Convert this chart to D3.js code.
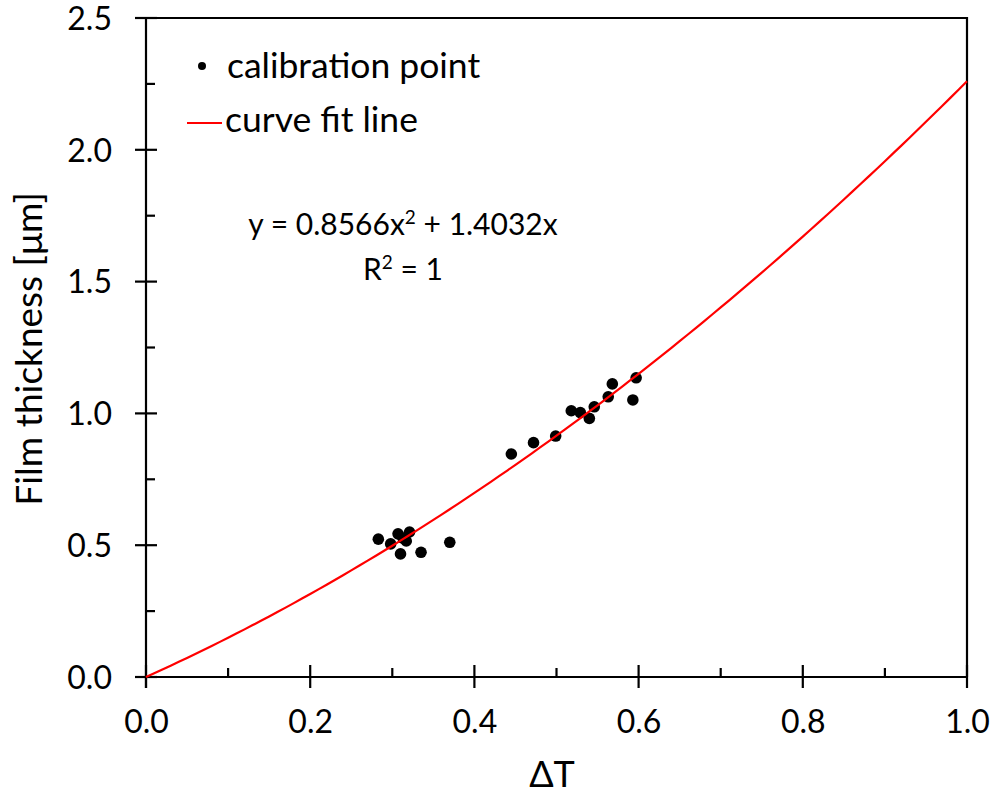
<!DOCTYPE html>
<html><head><meta charset="utf-8">
<script src="https://cdn.jsdelivr.net/npm/d3@7"></script>
<style>
html,body{margin:0;padding:0;background:#fff;}
svg text{font-family:Lato,"Open Sans",sans-serif;fill:#000;}
</style></head>
<body>
<svg id="chart" width="995" height="794"></svg>
<script>
// ---- data ----
const pointX = [0.283,0.298,0.307,0.310,0.313,0.317,0.321,0.335,0.370,0.445,0.472,0.499,0.518,0.529,0.540,0.546,0.563,0.568,0.593,0.597];
const pointY = [0.523,0.505,0.543,0.467,0.527,0.516,0.550,0.473,0.511,0.846,0.889,0.914,1.010,1.003,0.981,1.025,1.063,1.112,1.051,1.135];
const fitCoeffs = [0.8566, 1.4032]; // a*x^2 + b*x
const xMajorTicks = [0.0,0.2,0.4,0.6,0.8,1.0];
const xMinorTicks = [0.1,0.3,0.5,0.7,0.9];
const yMajorTicks = [0.0,0.5,1.0,1.5,2.0,2.5];
const yMinorTicks = [0.25,0.75,1.25,1.75,2.25];
const legendLabels = ["calibration point","curve fit line"];
const xTitle = "ΔT";
const yTitle = "Film thickness [μm]";

// ---- layout ----
const svg = d3.select("#chart");
const L = 146, R = 967, T = 18, B = 677;
const x = d3.scaleLinear().domain([0,1]).range([L,R]);
const y = d3.scaleLinear().domain([0,2.5]).range([B,T]);

// frame (top & right)
svg.append("path")
  .attr("d", `M${L},${T}H${R}V${B}`)
  .attr("fill","none").attr("stroke","#000").attr("stroke-width",2.2);

// x axis
const xAxis = svg.append("g").attr("transform",`translate(0,${B})`);
xAxis.call(d3.axisBottom(x).tickValues(xMajorTicks).tickFormat(d3.format(".1f")).tickSize(0).tickPadding(0));
xAxis.select(".domain").remove();
xAxis.append("line").attr("x1",L-11).attr("x2",R).attr("stroke","#000").attr("stroke-width",2.2);
xAxis.selectAll(".tick line").remove();
xAxis.selectAll(".maj").data(xMajorTicks).join("line")
  .attr("x1",d=>x(d)).attr("x2",d=>x(d)).attr("y1",-12).attr("y2",11)
  .attr("stroke","#000").attr("stroke-width",2.2);
xAxis.selectAll(".min").data(xMinorTicks).join("line")
  .attr("x1",d=>x(d)).attr("x2",d=>x(d)).attr("y1",-9).attr("y2",0)
  .attr("stroke","#000").attr("stroke-width",2.2);
xAxis.selectAll(".tick text").attr("y",56).attr("dy",0).attr("font-size",32).attr("font-family","Lato");

// y axis
const yAxis = svg.append("g").attr("transform",`translate(${L},0)`);
yAxis.call(d3.axisLeft(y).tickValues(yMajorTicks).tickFormat(d3.format(".1f")).tickSize(0).tickPadding(0));
yAxis.select(".domain").remove();
yAxis.append("line").attr("y1",T).attr("y2",B+11).attr("stroke","#000").attr("stroke-width",2.2);
yAxis.selectAll(".tick line").remove();
yAxis.selectAll(".maj").data(yMajorTicks).join("line")
  .attr("y1",d=>y(d)).attr("y2",d=>y(d)).attr("x1",-11).attr("x2",11)
  .attr("stroke","#000").attr("stroke-width",2.2);
yAxis.selectAll(".min").data(yMinorTicks).join("line")
  .attr("y1",d=>y(d)).attr("y2",d=>y(d)).attr("x1",0).attr("x2",9)
  .attr("stroke","#000").attr("stroke-width",2.2);
yAxis.selectAll(".tick text").attr("x",-34).attr("dy","0.35em").attr("font-size",32).attr("font-family","Lato");

// axis titles
svg.append("text").attr("x",552).attr("y",787).attr("text-anchor","middle")
  .attr("font-size",36).text(xTitle);
svg.append("text").attr("transform","translate(42,349) rotate(-90)").attr("text-anchor","middle")
  .attr("font-size",37).text(yTitle);

// points
const pts = pointX.map((v,i)=>({x:v,y:pointY[i]}));
svg.append("g").selectAll("circle").data(pts).join("circle")
  .attr("cx",d=>x(d.x)).attr("cy",d=>y(d.y)).attr("r",5.8).attr("fill","#000");

// fit curve
const curvePts = d3.range(0,1.0001,0.01).map(t=>({x:t,y:fitCoeffs[0]*t*t+fitCoeffs[1]*t}));
svg.append("path").datum(curvePts)
  .attr("d",d3.line().x(d=>x(d.x)).y(d=>y(d.y)))
  .attr("fill","none").attr("stroke","#ff0000").attr("stroke-width",2.2);

// legend
svg.append("circle").attr("cx",202).attr("cy",66).attr("r",4).attr("fill","#000");
svg.append("text").attr("x",227).attr("y",78).attr("font-size",35.5).text(legendLabels[0]);
svg.append("line").attr("x1",187).attr("x2",222).attr("y1",123).attr("y2",123)
  .attr("stroke","#ff0000").attr("stroke-width",2.2);
svg.append("text").attr("x",225).attr("y",132).attr("font-size",35.5).text(legendLabels[1]);

// equation
const eq = svg.append("text").attr("x",403).attr("y",235).attr("text-anchor","middle").attr("font-size",30);
eq.append("tspan").text("y = " + fitCoeffs[0] + "x");
eq.append("tspan").attr("dy",-11).attr("font-size",19).text("2");
eq.append("tspan").attr("dy",11).text(" + " + fitCoeffs[1] + "x");
const r2 = svg.append("text").attr("x",403).attr("y",280).attr("text-anchor","middle").attr("font-size",30);
r2.append("tspan").text("R");
r2.append("tspan").attr("dy",-11).attr("font-size",19).text("2");
r2.append("tspan").attr("dy",11).text(" = 1");
</script>
</body></html>
